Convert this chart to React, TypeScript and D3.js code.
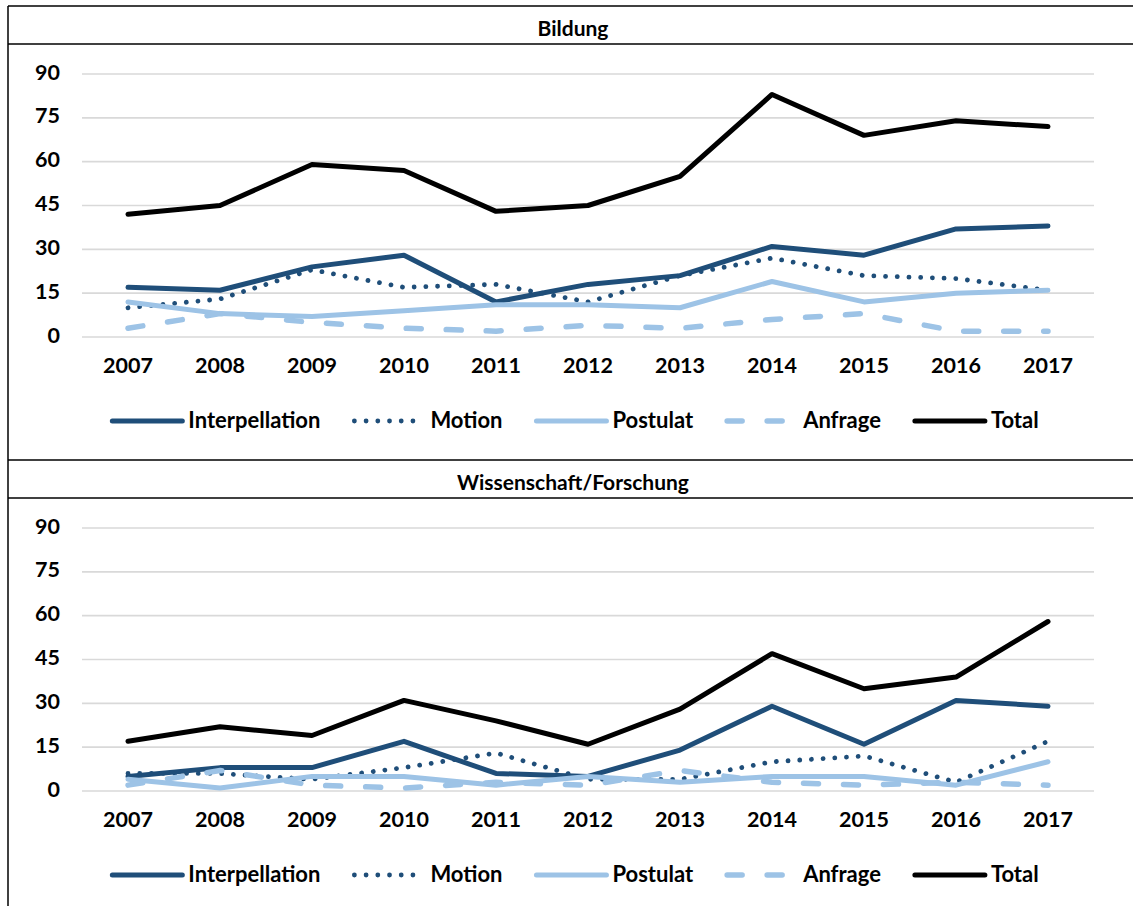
import React, { useEffect, useRef } from 'react';
import * as d3 from 'd3';

// categories and ticks
const years = ['2007', '2008', '2009', '2010', '2011', '2012', '2013', '2014', '2015', '2016', '2017'];
const yTicks = [0, 15, 30, 45, 60, 75, 90];
const seriesNames = ['Interpellation', 'Motion', 'Postulat', 'Anfrage', 'Total'];

// Bildung
const bildungInterpellation = [17, 16, 24, 28, 12, 18, 21, 31, 28, 37, 38];
const bildungMotion = [10, 13, 23, 17, 18, 12, 21, 27, 21, 20, 16];
const bildungPostulat = [12, 8, 7, 9, 11, 11, 10, 19, 12, 15, 16];
const bildungAnfrage = [3, 8, 5, 3, 2, 4, 3, 6, 8, 2, 2];
const bildungTotal = [42, 45, 59, 57, 43, 45, 55, 83, 69, 74, 72];

// Wissenschaft/Forschung
const wissInterpellation = [5, 8, 8, 17, 6, 5, 14, 29, 16, 31, 29];
const wissMotion = [6, 6, 4, 8, 13, 4, 4, 10, 12, 3, 17];
const wissPostulat = [4, 1, 5, 5, 2, 5, 3, 5, 5, 2, 10];
const wissAnfrage = [2, 7, 2, 1, 3, 2, 7, 3, 2, 3, 2];
const wissTotal = [17, 22, 19, 31, 24, 16, 28, 47, 35, 39, 58];

const panels = [
    { title: 'Bildung', series: [bildungInterpellation, bildungMotion, bildungPostulat, bildungAnfrage, bildungTotal] },
    { title: 'Wissenschaft/Forschung', series: [wissInterpellation, wissMotion, wissPostulat, wissAnfrage, wissTotal] },
];

const W = 1133;
const H = 906;
const FONT = 'Lato, "Open Sans", sans-serif';

const styles = [
    { color: '#1f4e79', width: 5, dash: null },
    { color: '#1f4e79', width: 4.8, dash: '0.01 11.7' },
    { color: '#9dc3e6', width: 5, dash: null },
    { color: '#9dc3e6', width: 5.5, dash: '15 25' },
    { color: '#000000', width: 5, dash: null },
];

const App: React.FC = () => {
    const svgRef = useRef<SVGSVGElement | null>(null);

    useEffect(() => {
        if (!svgRef.current) return;
        const svg = d3.select(svgRef.current);
        svg.selectAll('*').remove();

        const panelStep = 454;
        const x = d3.scalePoint<string>().domain(years).range([82, 1094]).padding(0.5);

        // left frame line
        svg.append('line')
            .attr('x1', 8).attr('x2', 8).attr('y1', 6).attr('y2', H)
            .style('stroke', 'black').style('stroke-width', 1.5);

        panels.forEach((panel, p) => {
            const dy = p * panelStep;
            const y = d3.scaleLinear().domain([0, 90]).range([337 + dy, 74 + dy]);
            const g = svg.append('g');

            // frame lines
            [6, 44].forEach((ly) => {
                g.append('line')
                    .attr('x1', 8).attr('x2', W).attr('y1', ly + dy).attr('y2', ly + dy)
                    .style('stroke', 'black').style('stroke-width', 1.5);
            });

            g.append('text')
                .attr('x', 573).attr('y', 31 + dy)
                .attr('text-anchor', 'middle').attr('dominant-baseline', 'middle')
                .style('font-family', FONT).style('font-weight', 700).style('font-size', '21px')
                .text(panel.title);

            // gridlines
            g.selectAll('line.grid')
                .data(yTicks)
                .enter()
                .append('line')
                .attr('class', 'grid')
                .attr('x1', 82).attr('x2', 1094)
                .attr('y1', (d) => y(d)).attr('y2', (d) => y(d))
                .style('stroke', '#d9d9d9').style('stroke-width', 1.6);

            g.selectAll('text.ytick')
                .data(yTicks)
                .enter()
                .append('text')
                .attr('class', 'ytick')
                .attr('x', 60).attr('y', (d) => y(d))
                .attr('text-anchor', 'end').attr('dominant-baseline', 'middle')
                .style('font-family', FONT).style('font-weight', 700).style('font-size', '21.5px')
                .text((d) => d);

            g.selectAll('text.xtick')
                .data(years)
                .enter()
                .append('text')
                .attr('class', 'xtick')
                .attr('x', (d) => x(d) as number).attr('y', 367 + dy)
                .attr('text-anchor', 'middle').attr('dominant-baseline', 'middle')
                .style('font-family', FONT).style('font-weight', 700).style('font-size', '21.5px')
                .text((d) => d);

            // series lines
            const line = d3.line<number>()
                .x((d, i) => x(years[i]) as number)
                .y((d) => y(d));

            panel.series.forEach((vals, s) => {
                const st = styles[s];
                const path = g.append('path')
                    .attr('d', line(vals))
                    .style('fill', 'none')
                    .style('stroke', st.color)
                    .style('stroke-width', st.width)
                    .style('stroke-linejoin', 'round')
                    .style('stroke-linecap', 'round');
                if (st.dash) path.style('stroke-dasharray', st.dash);
            });

            // legend
            const legend = g.append('g');
            const sampleW = 70;
            const textGap = 6;
            const itemGap = 34;
            const ly = 421 + dy;
            const items = seriesNames.map((name, s) => {
                const item = legend.append('g');
                const st = styles[s];
                const l = item.append('line')
                    .attr('x1', 0).attr('x2', sampleW).attr('y1', ly).attr('y2', ly)
                    .style('stroke', st.color)
                    .style('stroke-width', st.width)
                    .style('stroke-linecap', 'round');
                if (st.dash) l.style('stroke-dasharray', st.dash);
                const t = item.append('text')
                    .attr('x', sampleW + textGap).attr('y', ly + 1)
                    .attr('dominant-baseline', 'middle')
                    .style('font-family', FONT).style('font-weight', 700).style('font-size', '22px')
                    .text(name);
                const tw = (t.node() as SVGTextElement).getComputedTextLength();
                return { item, w: sampleW + textGap + tw };
            });
            const total = d3.sum(items, (d) => d.w) + itemGap * (items.length - 1);
            let cx = 575.5 - total / 2;
            items.forEach((d) => {
                d.item.attr('transform', `translate(${cx},0)`);
                cx += d.w + itemGap;
            });
        });
    }, []);

    return (
        <svg
            ref={svgRef}
            width={W}
            height={H}
            style={{ position: 'absolute', left: 0, top: 0, background: 'white' }}
        />
    );
};

export default App;
